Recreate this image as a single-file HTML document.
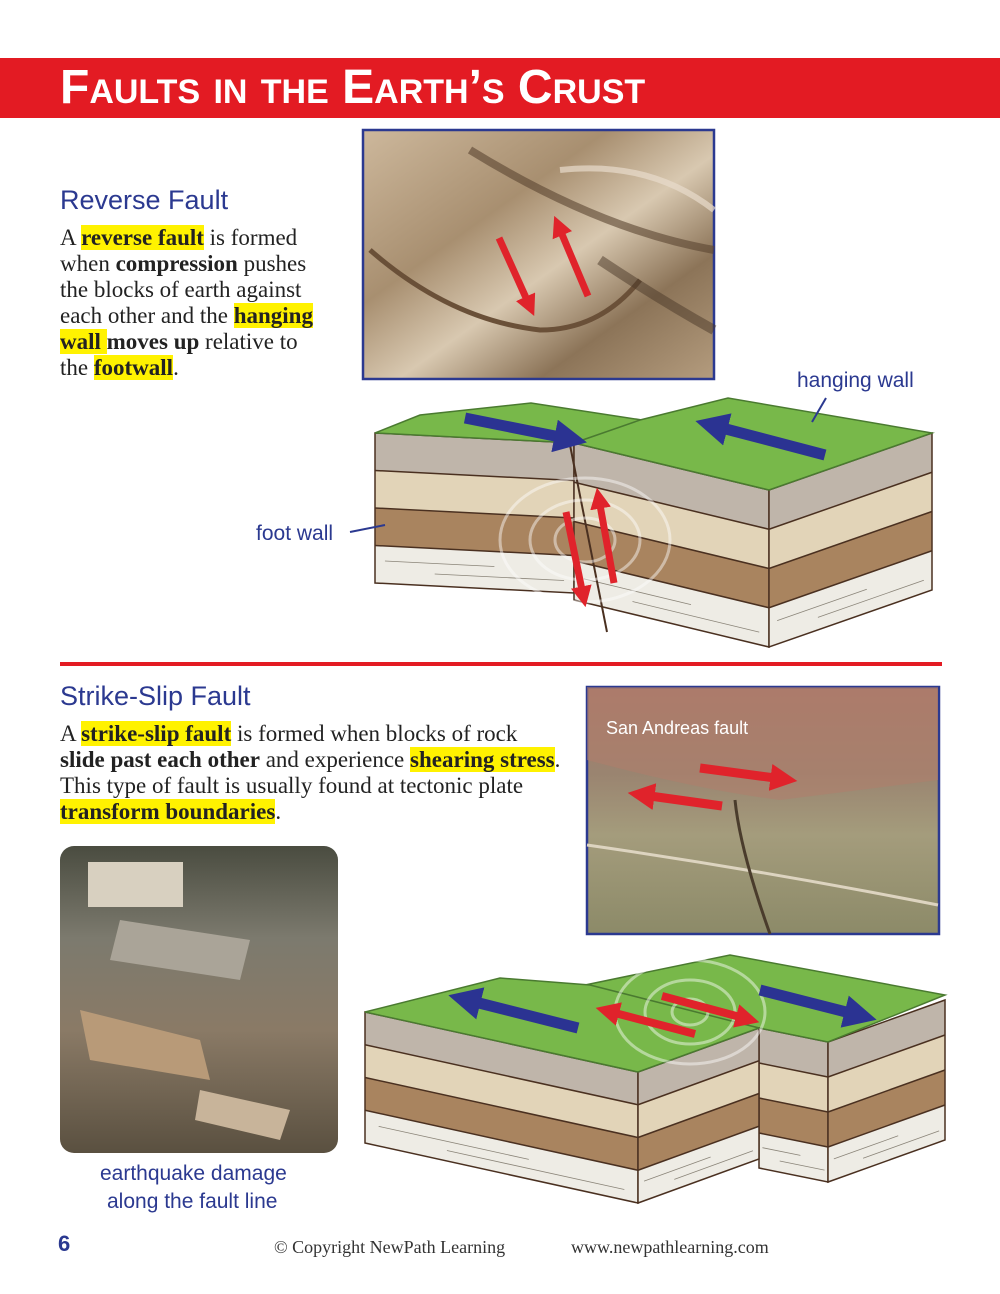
<!DOCTYPE html>
<html><head><meta charset="utf-8">
<style>
*{margin:0;padding:0}
body{width:1000px;height:1294px;background:#fff;position:relative;overflow:hidden;font-family:"Liberation Serif",serif}
.banner{position:absolute;left:0;top:58px;width:1000px;height:60px;background:#e31b23}
.title{position:absolute;left:60px;top:60px;color:#fff;font-family:"Liberation Sans",sans-serif;font-size:48px;font-weight:bold;font-variant:small-caps;white-space:nowrap}
.h{position:absolute;color:#2b3990;font-family:"Liberation Sans",sans-serif;font-size:27px;white-space:nowrap}
.p{position:absolute;font-size:23px;line-height:26px;color:#222;white-space:nowrap}
.p b{font-weight:bold}
.hl{background:#fff200}
.lab{position:absolute;color:#2b3990;font-family:"Liberation Sans",sans-serif;font-size:21px;white-space:nowrap}
.foot{position:absolute;top:1237px;font-size:18px;color:#333}
</style></head><body>
<div class="banner"></div>
<div class="title">Faults in the Earth’s Crust</div>

<div class="h" style="left:60px;top:185px">Reverse Fault</div>
<div class="p" style="left:60px;top:225px">A <b class="hl">reverse fault</b> is formed<br>when <b>compression</b> pushes<br>the blocks of earth against<br>each other and the <b class="hl">hanging</b><br><b class="hl">wall </b><b>moves up</b> relative to<br>the <b class="hl">footwall</b>.</div>

<div class="h" style="left:60px;top:681px">Strike-Slip Fault</div>
<div class="p" style="left:60px;top:721px">A <b class="hl">strike-slip fault</b> is formed when blocks of rock<br><b>slide past each other</b> and experience <b class="hl">shearing stress</b>.<br>This type of fault is usually found at tectonic plate<br><b class="hl">transform boundaries</b>.</div>

<div class="lab" style="left:797px;top:369px">hanging wall</div>
<div class="lab" style="left:256px;top:522px">foot wall</div>
<div class="lab" style="left:100px;top:1162px">earthquake damage</div>
<div class="lab" style="left:107px;top:1190px">along the fault line</div>

<div style="position:absolute;left:60px;top:662px;width:882px;height:4px;background:#e31b23"></div>

<svg style="position:absolute;left:0;top:0" width="1000" height="1294">
<defs>
<marker id="ab" markerWidth="3" markerHeight="3" refX="0.5" refY="1.5" orient="auto"><path d="M0,0 L3,1.5 L0,3 z" fill="#2b3392"/></marker>
<marker id="rr" markerWidth="3" markerHeight="3" refX="0.5" refY="1.5" orient="auto"><path d="M0,0 L3,1.5 L0,3 z" fill="#e0232b"/></marker>
<g id="L">
<rect x="0" y="0" width="1" height="0.25" fill="#bfb5aa"/>
<rect x="0" y="0.25" width="1" height="0.25" fill="#e2d4b8"/>
<rect x="0" y="0.5" width="1" height="0.25" fill="#a9845f"/>
<rect x="0" y="0.75" width="1" height="0.25" fill="#eeece5"/>
<g stroke="#4a3020" stroke-width="1.5">
<line x1="0" y1="0.25" x2="1" y2="0.25" vector-effect="non-scaling-stroke"/>
<line x1="0" y1="0.5" x2="1" y2="0.5" vector-effect="non-scaling-stroke"/>
<line x1="0" y1="0.75" x2="1" y2="0.75" vector-effect="non-scaling-stroke"/>
<rect x="0" y="0" width="1" height="1" fill="none" vector-effect="non-scaling-stroke"/>
</g>
<g stroke="#8a8478" stroke-width="0.8">
<line x1="0.05" y1="0.85" x2="0.6" y2="0.85" vector-effect="non-scaling-stroke"/>
<line x1="0.3" y1="0.92" x2="0.95" y2="0.92" vector-effect="non-scaling-stroke"/>
</g>
</g>
<linearGradient id="ph1" x1="0" y1="0" x2="1" y2="1">
<stop offset="0" stop-color="#cdb89c"/><stop offset="0.35" stop-color="#a88f70"/><stop offset="0.55" stop-color="#d8c8b0"/><stop offset="0.75" stop-color="#8c7458"/><stop offset="1" stop-color="#b49c7e"/></linearGradient>
<linearGradient id="ph2" x1="0" y1="0" x2="0" y2="1">
<stop offset="0" stop-color="#a8786a"/><stop offset="0.35" stop-color="#9a8470"/><stop offset="0.6" stop-color="#a49c7c"/><stop offset="1" stop-color="#8c8a68"/></linearGradient>
<linearGradient id="ph3" x1="0" y1="0" x2="0" y2="1">
<stop offset="0" stop-color="#4a4c40"/><stop offset="0.3" stop-color="#7c7a6e"/><stop offset="0.6" stop-color="#8a7a66"/><stop offset="1" stop-color="#5a5040"/></linearGradient>
</defs>

<rect x="363" y="130" width="351" height="249" fill="url(#ph1)" stroke="#2b3990" stroke-width="2.5"/>
<path d="M370,250 Q450,320 540,330 Q600,330 640,280" stroke="#6a5038" stroke-width="5" fill="none"/>
<path d="M470,150 Q600,230 714,250" stroke="#5a4530" stroke-width="8" fill="none" opacity="0.6"/>
<path d="M560,170 Q650,160 714,210" stroke="#e8dccc" stroke-width="6" fill="none" opacity="0.7"/>
<path d="M600,260 Q660,300 714,330" stroke="#4a3828" stroke-width="10" fill="none" opacity="0.5"/>
<line x1="499" y1="238" x2="527" y2="300" stroke="#e0232b" stroke-width="7" marker-end="url(#rr)"/>
<line x1="588" y1="296" x2="561" y2="232" stroke="#e0232b" stroke-width="7" marker-end="url(#rr)"/>

<use href="#L" transform="matrix(199,10,0,150,375,433)"/>
<use href="#L" transform="matrix(195,47,0,157,574,443)"/>
<use href="#L" transform="matrix(163,-57,0,157,769,490)"/>
<polygon points="375,433 420,415 531,403 642,420 574,443" fill="#78b84a" stroke="#4a7a30" stroke-width="1.5"/>
<polygon points="574,443 640,420 728,398 932,433 769,490" fill="#78b84a" stroke="#4a7a30" stroke-width="1.5"/>
<line x1="570" y1="445" x2="607" y2="632" stroke="#4a3020" stroke-width="2"/>
<g fill="none" stroke="#fff" stroke-width="3" opacity="0.45">
<ellipse cx="585" cy="540" rx="30" ry="22"/><ellipse cx="585" cy="540" rx="55" ry="40"/><ellipse cx="585" cy="540" rx="85" ry="62"/></g>
<line x1="465" y1="418" x2="560" y2="437" stroke="#2b3392" stroke-width="11" marker-end="url(#ab)"/>
<line x1="825" y1="455" x2="722" y2="428" stroke="#2b3392" stroke-width="11" marker-end="url(#ab)"/>
<line x1="566" y1="512" x2="582" y2="590" stroke="#e0232b" stroke-width="7" marker-end="url(#rr)"/>
<line x1="614" y1="583" x2="600" y2="505" stroke="#e0232b" stroke-width="7" marker-end="url(#rr)"/>
<line x1="826" y1="398" x2="812" y2="422" stroke="#2b3990" stroke-width="2"/>
<line x1="350" y1="532" x2="385" y2="525" stroke="#2b3990" stroke-width="2"/>

<rect x="587" y="687" width="352" height="247" fill="url(#ph2)" stroke="#2b3990" stroke-width="2.5"/>
<path d="M587,760 Q700,790 780,800 Q860,790 938,780 L938,687 L587,687 z" fill="#b07e6c" opacity="0.55"/>
<path d="M587,845 Q760,870 938,905" stroke="#ddd4c0" stroke-width="3" fill="none"/>
<path d="M735,800 Q740,850 770,934" stroke="#4a3c2c" stroke-width="3" fill="none"/>
<text x="606" y="734" fill="#fff" font-family="Liberation Sans,sans-serif" font-size="18">San Andreas fault</text>
<line x1="700" y1="768" x2="775" y2="778" stroke="#e0232b" stroke-width="9" marker-end="url(#rr)"/>
<line x1="722" y1="806" x2="650" y2="796" stroke="#e0232b" stroke-width="9" marker-end="url(#rr)"/>

<rect x="60" y="846" width="278" height="307" rx="14" fill="url(#ph3)"/>
<rect x="88" y="862" width="95" height="45" fill="#d8d0c0"/>
<polygon points="80,1010 200,1040 210,1080 90,1060" fill="#b89a78"/>
<polygon points="200,1090 290,1110 280,1140 195,1120" fill="#c8b49a"/>
<polygon points="120,920 250,940 240,980 110,960" fill="#aaa498"/>

<use href="#L" transform="matrix(69,14,0,140,759,1028)"/>
<use href="#L" transform="matrix(117,-42,0,140,828,1042)"/>
<polygon points="585,985 730,955 945,995 828,1042 759,1028" fill="#78b84a" stroke="#4a7a30" stroke-width="1.5"/>
<use href="#L" transform="matrix(273,60,0,131,365,1012)"/>
<use href="#L" transform="matrix(121,-44,0,131,638,1072)"/>
<polygon points="365,1012 500,978 590,985 759,1028 638,1072" fill="#78b84a" stroke="#4a7a30" stroke-width="1.5"/>
<g fill="none" stroke="#fff" stroke-width="3" opacity="0.45">
<ellipse cx="690" cy="1012" rx="18" ry="13"/><ellipse cx="690" cy="1012" rx="45" ry="32"/><ellipse cx="690" cy="1012" rx="75" ry="52"/></g>
<line x1="578" y1="1028" x2="475" y2="1002" stroke="#2b3392" stroke-width="11" marker-end="url(#ab)"/>
<line x1="760" y1="990" x2="850" y2="1013" stroke="#2b3392" stroke-width="11" marker-end="url(#ab)"/>
<line x1="695" y1="1034" x2="615" y2="1013" stroke="#e0232b" stroke-width="8" marker-end="url(#rr)"/>
<line x1="662" y1="996" x2="740" y2="1017" stroke="#e0232b" stroke-width="8" marker-end="url(#rr)"/>
</svg>

<div style="position:absolute;left:58px;top:1231px;font-family:'Liberation Sans',sans-serif;font-weight:bold;font-size:22px;color:#2b3990">6</div>
<div class="foot" style="left:274px">© Copyright NewPath Learning</div>
<div class="foot" style="left:571px">www.newpathlearning.com</div>
</body></html>
